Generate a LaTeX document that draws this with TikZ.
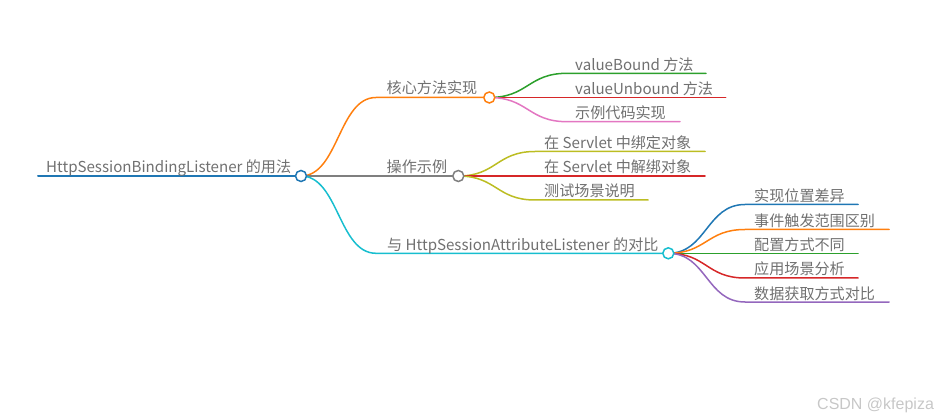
\documentclass[tikz,border=0pt]{standalone}
\usepackage{fontspec}
\setmainfont{Noto Sans CJK SC}
\newfontfamily\wmfont{Liberation Sans}
\definecolor{cblue}{HTML}{1F77B4}
\definecolor{corange}{HTML}{FF7F0E}
\definecolor{cgreen}{HTML}{2CA02C}
\definecolor{cred}{HTML}{D62728}
\definecolor{cpurple}{HTML}{9467BD}
\definecolor{cpink}{HTML}{E377C2}
\definecolor{cgray}{HTML}{7F7F7F}
\definecolor{colive}{HTML}{BCBD22}
\definecolor{ccyan}{HTML}{17BECF}
\definecolor{ctext}{HTML}{707070}
\tikzset{
  lbl/.style={anchor=base west, inner sep=0pt, text=ctext, font=\fontsize{15.1}{18}\selectfont},
  link/.style={line width=1.5pt, line cap=round},
  dot/.style={circle, draw=#1, fill=white, line width=1.5pt, minimum size=11pt, inner sep=0pt},
}
\begin{document}
\begin{tikzpicture}[x=1pt, y=-1pt]
\useasboundingbox (0,0) rectangle (941,419);
% anchor coordinates
\coordinate (r0) at (38,176);
\coordinate (rc) at (301,176);
\coordinate (b1s) at (376,97.5);
\coordinate (b1c) at (489.3,97.5);
\coordinate (b2c) at (458.3,176);
\coordinate (b3s) at (376,253.3);
\coordinate (b3c) at (668.3,253.3);
% level-2 starts/ends
\coordinate (a1s) at (567,73.3);  \coordinate (a1e) at (706,73.3);
\coordinate (a2s) at (567,97.5);  \coordinate (a2e) at (725.7,97.5);
\coordinate (a3s) at (567,121.7); \coordinate (a3e) at (680,121.7);
\coordinate (c1s) at (535,151.5); \coordinate (c1e) at (705,151.5);
\coordinate (c2s) at (535,176);   \coordinate (c2e) at (705,176);
\coordinate (c3s) at (535,200);   \coordinate (c3e) at (648,200);
\coordinate (d1s) at (745,204.5); \coordinate (d1e) at (858,204.5);
\coordinate (d2s) at (745,229.5); \coordinate (d2e) at (889,229.5);
\coordinate (d3s) at (745,253.3); \coordinate (d3e) at (858,253.3);
\coordinate (d4s) at (745,278);   \coordinate (d4e) at (858,278);
\coordinate (d5s) at (745,302);   \coordinate (d5e) at (889,302);
% root
\draw[link, cblue, line width=2pt] (r0) -- (rc);
% branch 1
\draw[link, corange] (rc) .. controls (338.5,176) and (338.5,97.5) .. (b1s) -- (b1c);
\draw[link, cgreen] (b1c) .. controls (528,97.5) and (528,73.3) .. (a1s) -- (a1e);
\draw[link, cred] (b1c) -- (a2s) -- (a2e);
\draw[link, cpink] (b1c) .. controls (528,97.5) and (528,121.7) .. (a3s) -- (a3e);
% branch 2
\draw[link, cgray] (rc) -- (b2c);
\draw[link, colive] (b2c) .. controls (496.5,176) and (496.5,151.5) .. (c1s) -- (c1e);
\draw[link, cred] (b2c) -- (c2s) -- (c2e);
\draw[link, colive] (b2c) .. controls (496.5,176) and (496.5,200) .. (c3s) -- (c3e);
% branch 3
\draw[link, ccyan] (rc) .. controls (338.5,176) and (338.5,253.3) .. (b3s) -- (b3c);
\draw[link, cblue] (b3c) .. controls (706.5,253.3) and (706.5,204.5) .. (d1s) -- (d1e);
\draw[link, corange] (b3c) .. controls (706.5,253.3) and (706.5,229.5) .. (d2s) -- (d2e);
\draw[link, cgreen] (b3c) -- (d3s) -- (d3e);
\draw[link, cred] (b3c) .. controls (706.5,253.3) and (706.5,278) .. (d4s) -- (d4e);
\draw[link, cpurple] (b3c) .. controls (706.5,253.3) and (706.5,302) .. (d5s) -- (d5e);
% circles
\node[dot=cblue] (rcd) at (rc) {};
\node[dot=corange] (b1d) at (b1c) {};
\node[dot=cgray] (b2d) at (b2c) {};
\node[dot=ccyan] (b3d) at (b3c) {};
% labels
\node[lbl] (t0) at (46,173) {HttpSessionBindingListener 的用法};
\node[lbl] (t1) at (386.5,94) {核心方法实现};
\node[lbl] (t11) at (575,70.3) {valueBound 方法};
\node[lbl] (t12) at (575,94.5) {valueUnbound 方法};
\node[lbl] (t13) at (575,118.7) {示例代码实现};
\node[lbl] (t2) at (386.5,173) {操作示例};
\node[lbl] (t21) at (544,148.5) {在 Servlet 中绑定对象};
\node[lbl] (t22) at (544,173) {在 Servlet 中解绑对象};
\node[lbl] (t23) at (544,197) {测试场景说明};
\node[lbl] (t3) at (387,250.3) {与 HttpSessionAttributeListener 的对比};
\node[lbl] (t31) at (754,201.5) {实现位置差异};
\node[lbl] (t32) at (754,226.5) {事件触发范围区别};
\node[lbl] (t33) at (754,250.3) {配置方式不同};
\node[lbl] (t34) at (754,275) {应用场景分析};
\node[lbl] (t35) at (754,299) {数据获取方式对比};
% watermark
\node[anchor=base west, inner sep=0pt, text=black!22, font=\wmfont\fontsize{16}{19}\selectfont] (wm) at (817,409) {CSDN @kfepiza};
\end{tikzpicture}
\end{document}
